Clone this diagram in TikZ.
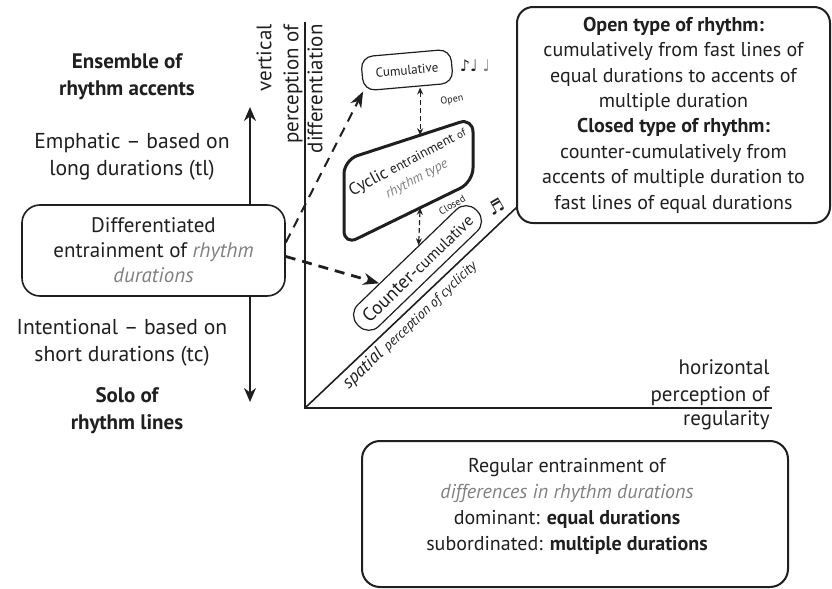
\documentclass[tikz,border=0pt]{standalone}
\usepackage{fontspec}
\setmainfont{PT Sans}
\newfontfamily\notefont{DejaVu Sans}
\usepackage{xcolor}
\usetikzlibrary{arrows.meta, positioning, calc}

\definecolor{ink}{gray}{0.12}
\definecolor{soft}{gray}{0.5}

\begin{document}
\begin{tikzpicture}[x=0.5pt, y=-0.5pt, >=Stealth,
  font=\fontsize{10.5}{13.5}\selectfont,
  txt/.style={align=center, text=ink, inner sep=1pt},
  bigbox/.style={draw=ink, line width=1pt, rounded corners=8pt, align=center, text=ink},
  axis/.style={draw=ink, line width=1pt},
  longarrow/.style={draw=ink, line width=0.9pt, -{Stealth[length=7pt, width=6pt]}},
  bentarrow/.style={draw=ink, line width=1pt, dash pattern=on 5pt off 3.5pt, -{Stealth[length=8pt, width=6pt]}},
  pairarrow/.style={draw=ink, line width=0.6pt, dash pattern=on 2.5pt off 1.5pt, {Stealth[length=3.5pt, width=3pt]}-{Stealth[length=3.5pt, width=3pt]}},
  tiny/.style={text=ink, inner sep=0pt, font=\fontsize{5}{5}\selectfont}]

\useasboundingbox (0,0) rectangle (832,589);

%-- left column
\node[txt, font=\fontsize{10.5}{13.5}\selectfont\bfseries] (ensemble) at (127,77) {Ensemble of\\rhythm accents};
\node[txt, font=\fontsize{10.8}{13.5}\selectfont] (emphatic) at (132,157) {Emphatic -- based on\\long durations (tl)};
\node[bigbox, line width=0.8pt, rounded corners=9pt, minimum width=131.5pt, minimum height=45.5pt,
  font=\fontsize{10.5}{12.5}\selectfont] (diff) at (153.5,250.5)
  {Differentiated\\entrainment of \textcolor{soft}{\itshape rhythm}\\\textcolor{soft}{\itshape durations}};
\node[txt, font=\fontsize{10.8}{13.5}\selectfont] (intent) at (122,343) {Intentional -- based on\\short durations (tc)};
\node[txt, font=\fontsize{10.5}{13.5}\selectfont\bfseries] (solo) at (127,411) {Solo of\\rhythm lines};

\coordinate (uptip) at (250,107);
\coordinate (downtip) at (250,402);
\draw[longarrow] (diff.north -| uptip) -- (uptip);
\draw[longarrow] (diff.south -| downtip) -- (downtip);

%-- axes
\coordinate (O) at (305,408);
\coordinate (ytop) at (305,22);
\coordinate (xend) at (772,408);
\coordinate (zend) at (517,207);
\draw[axis] (ytop) -- (O) -- (xend);
\draw[axis, line width=0.8pt] (O) -- (zend)
  node[pos=0.14, sloped, anchor=north west, inner sep=1.5pt, text=ink] (spatial)
  {\itshape{\fontsize{9}{9}\selectfont spatial} {\fontsize{7}{7}\selectfont perception of cyclicity}};

\node[txt, rotate=90, anchor=south east, align=right] (vlab) at (ytop) {vertical\\perception of};
\node[txt, rotate=90, anchor=north east] (vlab2) at (ytop) {differentiation};
\node[txt, anchor=south east, align=right] (hlab) at (xend) {horizontal\\perception of};
\node[txt, anchor=north east] (hlab2) at (xend) {regularity};

%-- explanation boxes
\node[bigbox, minimum width=156.5pt, minimum height=108pt, font=\fontsize{10}{12.7}\selectfont] (openbox) at (673.5,115)
  {\textbf{Open type of rhythm:}\\cumulatively from fast lines of\\equal durations to accents of\\multiple duration\\
   \textbf{Closed type of rhythm:}\\counter-cumulatively from\\accents of multiple duration to\\fast lines of equal durations};

\node[draw=ink, line width=1pt, rounded corners=9pt, minimum width=213pt, minimum height=73pt] (regbox) at (575,514) {};
\node[txt, font=\fontsize{10}{13}\selectfont] (regtext) at (567,506)
  {Regular entrainment of\\\textcolor{soft}{\itshape differences in rhythm durations}\\
   dominant: \textbf{equal durations}\\subordinated: \textbf{multiple durations}};

%-- rhythm types in the space
\node[draw=ink, line width=0.6pt, rounded corners=6pt, minimum width=45pt, minimum height=17pt,
  rotate=5, text=ink, font=\fontsize{6.5}{7}\selectfont] (cumul) at (407,70) {Cumulative};
\node[text=ink, inner sep=0pt, font=\notefont\fontsize{8}{8}\selectfont] (notesA) at (475,66) {♪♩ \textcolor{soft}{♩}};
\node[tiny, rotate=10] (openlab) at (452,100) {Open};

\coordinate (C1) at (344,160);
\coordinate (C2) at (473,118);
\coordinate (C3) at (473,182);
\coordinate (C4) at (344,245);
\draw[ink, line width=1.5pt, rounded corners=7pt] (C1) -- (C2) -- (C3) -- (C4) -- cycle;
\node[text=ink, align=center, rotate=28, inner sep=0pt, font=\fontsize{7}{9.5}\selectfont] (cyclic) at (412,170)
  {{\fontsize{8.5}{9}\selectfont Cyclic} {\fontsize{6.8}{7}\selectfont entrainment} {\fontsize{5.5}{6}\selectfont of}\\
   {\color{soft}\itshape rhythm type}};
\coordinate (cyctop) at ($(C1)!0.59!(C2)$);
\coordinate (cycbot) at ($(C4)!0.59!(C3)$);

\node[draw=ink, line width=0.6pt, rounded corners=7pt, minimum width=82.5pt, minimum height=15pt,
  rotate=44, text=ink, inner sep=1pt] (counter) at (417.5,268)
  {{\fontsize{9.5}{9}\selectfont Counter-}{\fontsize{8}{8}\selectfont cumulative}};
\node[tiny, rotate=30] (closedlab) at (452,205) {Closed};
\node[text=ink, inner sep=0pt, rotate=30, font=\notefont\fontsize{9}{9}\selectfont] (notesB) at (496,207) {♬};

%-- connections
\draw[pairarrow] (cumul.south -| cyctop) -- (cyctop);
\draw[pairarrow] (cycbot) -- ($(counter.north west)!0.6!(counter.north east)$);
\draw[bentarrow] ([yshift=4pt]diff.east) -- (cumul.south west);
\draw[bentarrow, line width=1.4pt] ([yshift=-3pt]diff.east) -- ($(counter.north west)!0.27!(counter.north east)$);

\end{tikzpicture}
\end{document}
